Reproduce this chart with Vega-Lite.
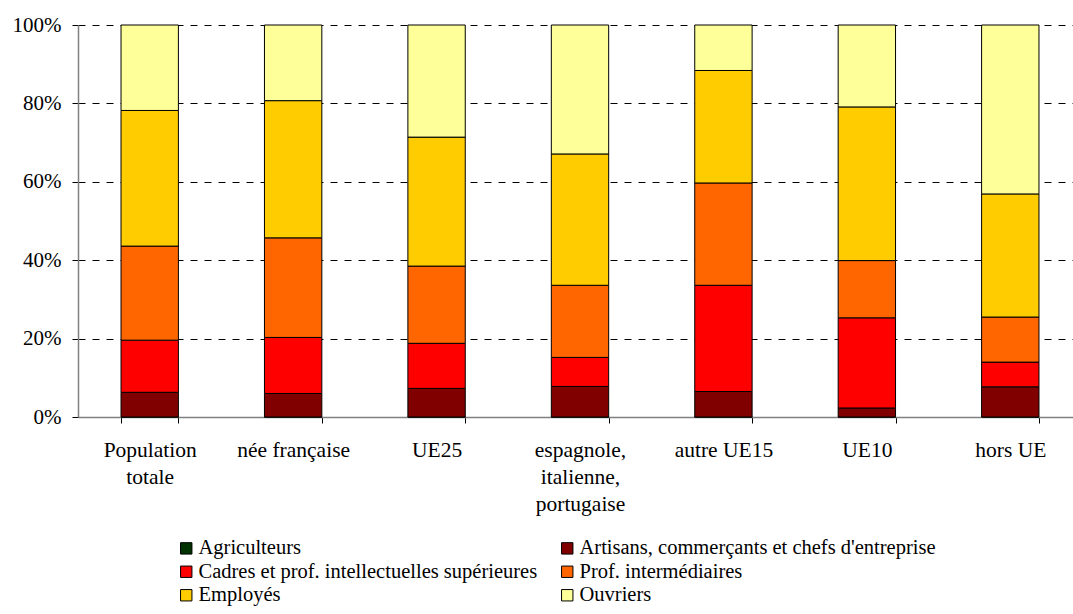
{
  "$schema": "https://vega.github.io/schema/vega-lite/v6.json",
  "width": 1004,
  "height": 392,
  "autosize": {"type": "none"},
  "padding": {"left": 78, "top": 25, "right": -9, "bottom": 197},
  "background": "white",
  "config": {
    "view": {"stroke": null},
    "font": "'Liberation Serif', 'Times New Roman', Times, serif"
  },
  "data": {
    "values": [
      {"groupe": "Population\ntotale", "g": 1, "cat": "Agriculteurs", "k": 1, "v": 0},
      {"groupe": "Population\ntotale", "g": 1, "cat": "Artisans, commerçants et chefs d'entreprise", "k": 2, "v": 6.3},
      {"groupe": "Population\ntotale", "g": 1, "cat": "Cadres et prof. intellectuelles supérieures", "k": 3, "v": 13.3},
      {"groupe": "Population\ntotale", "g": 1, "cat": "Prof. intermédiaires", "k": 4, "v": 24.0},
      {"groupe": "Population\ntotale", "g": 1, "cat": "Employés", "k": 5, "v": 34.6},
      {"groupe": "Population\ntotale", "g": 1, "cat": "Ouvriers", "k": 6, "v": 21.8},

      {"groupe": "née française", "g": 2, "cat": "Agriculteurs", "k": 1, "v": 0},
      {"groupe": "née française", "g": 2, "cat": "Artisans, commerçants et chefs d'entreprise", "k": 2, "v": 6.0},
      {"groupe": "née française", "g": 2, "cat": "Cadres et prof. intellectuelles supérieures", "k": 3, "v": 14.3},
      {"groupe": "née française", "g": 2, "cat": "Prof. intermédiaires", "k": 4, "v": 25.4},
      {"groupe": "née française", "g": 2, "cat": "Employés", "k": 5, "v": 35.0},
      {"groupe": "née française", "g": 2, "cat": "Ouvriers", "k": 6, "v": 19.3},

      {"groupe": "UE25", "g": 3, "cat": "Agriculteurs", "k": 1, "v": 0},
      {"groupe": "UE25", "g": 3, "cat": "Artisans, commerçants et chefs d'entreprise", "k": 2, "v": 7.3},
      {"groupe": "UE25", "g": 3, "cat": "Cadres et prof. intellectuelles supérieures", "k": 3, "v": 11.5},
      {"groupe": "UE25", "g": 3, "cat": "Prof. intermédiaires", "k": 4, "v": 19.7},
      {"groupe": "UE25", "g": 3, "cat": "Employés", "k": 5, "v": 32.9},
      {"groupe": "UE25", "g": 3, "cat": "Ouvriers", "k": 6, "v": 28.6},

      {"groupe": "espagnole,\nitalienne,\nportugaise", "g": 4, "cat": "Agriculteurs", "k": 1, "v": 0},
      {"groupe": "espagnole,\nitalienne,\nportugaise", "g": 4, "cat": "Artisans, commerçants et chefs d'entreprise", "k": 2, "v": 7.8},
      {"groupe": "espagnole,\nitalienne,\nportugaise", "g": 4, "cat": "Cadres et prof. intellectuelles supérieures", "k": 3, "v": 7.4},
      {"groupe": "espagnole,\nitalienne,\nportugaise", "g": 4, "cat": "Prof. intermédiaires", "k": 4, "v": 18.4},
      {"groupe": "espagnole,\nitalienne,\nportugaise", "g": 4, "cat": "Employés", "k": 5, "v": 33.5},
      {"groupe": "espagnole,\nitalienne,\nportugaise", "g": 4, "cat": "Ouvriers", "k": 6, "v": 32.9},

      {"groupe": "autre UE15", "g": 5, "cat": "Agriculteurs", "k": 1, "v": 0},
      {"groupe": "autre UE15", "g": 5, "cat": "Artisans, commerçants et chefs d'entreprise", "k": 2, "v": 6.5},
      {"groupe": "autre UE15", "g": 5, "cat": "Cadres et prof. intellectuelles supérieures", "k": 3, "v": 27.1},
      {"groupe": "autre UE15", "g": 5, "cat": "Prof. intermédiaires", "k": 4, "v": 26.1},
      {"groupe": "autre UE15", "g": 5, "cat": "Employés", "k": 5, "v": 28.7},
      {"groupe": "autre UE15", "g": 5, "cat": "Ouvriers", "k": 6, "v": 11.6},

      {"groupe": "UE10", "g": 6, "cat": "Agriculteurs", "k": 1, "v": 0},
      {"groupe": "UE10", "g": 6, "cat": "Artisans, commerçants et chefs d'entreprise", "k": 2, "v": 2.3},
      {"groupe": "UE10", "g": 6, "cat": "Cadres et prof. intellectuelles supérieures", "k": 3, "v": 23.0},
      {"groupe": "UE10", "g": 6, "cat": "Prof. intermédiaires", "k": 4, "v": 14.6},
      {"groupe": "UE10", "g": 6, "cat": "Employés", "k": 5, "v": 39.2},
      {"groupe": "UE10", "g": 6, "cat": "Ouvriers", "k": 6, "v": 20.9},

      {"groupe": "hors UE", "g": 7, "cat": "Agriculteurs", "k": 1, "v": 0},
      {"groupe": "hors UE", "g": 7, "cat": "Artisans, commerçants et chefs d'entreprise", "k": 2, "v": 7.7},
      {"groupe": "hors UE", "g": 7, "cat": "Cadres et prof. intellectuelles supérieures", "k": 3, "v": 6.3},
      {"groupe": "hors UE", "g": 7, "cat": "Prof. intermédiaires", "k": 4, "v": 11.5},
      {"groupe": "hors UE", "g": 7, "cat": "Employés", "k": 5, "v": 31.4},
      {"groupe": "hors UE", "g": 7, "cat": "Ouvriers", "k": 6, "v": 43.1}
    ]
  },
  "mark": {"type": "bar", "stroke": "black", "strokeWidth": 1},
  "encoding": {
    "x": {
      "field": "groupe",
      "type": "nominal",
      "sort": {"field": "g"},
      "title": null,
      "scale": {"paddingInner": 0.6, "paddingOuter": 0.3},
      "axis": {
        "labelAngle": 0,
        "labelExpr": "split(datum.label, '\\n')",
        "labelFontSize": 21.5,
        "labelColor": "black",
        "labelLineHeight": 27,
        "labelPadding": 16,
        "labelBaseline": "top",
        "tickBand": "extent",
        "tickSize": 6,
        "tickColor": "black",
        "domainColor": "#808080",
        "domainWidth": 1.5,
        "grid": false
      }
    },
    "y": {
      "field": "v",
      "type": "quantitative",
      "stack": "normalize",
      "title": null,
      "scale": {"domain": [0, 1], "nice": false},
      "axis": {
        "format": "0%",
        "values": [0, 0.2, 0.4, 0.6, 0.8, 1],
        "labelFontSize": 21,
        "labelColor": "black",
        "labelPadding": 11,
        "tickSize": 6,
        "tickColor": "black",
        "domainColor": "#808080",
        "domainWidth": 1.5,
        "grid": true,
        "gridColor": "black",
        "gridDash": [7, 7],
        "gridWidth": 1
      }
    },
    "order": {"field": "k", "type": "quantitative"},
    "color": {
      "field": "cat",
      "type": "nominal",
      "sort": null,
      "scale": {
        "domain": ["Agriculteurs", "Artisans, commerçants et chefs d'entreprise", "Cadres et prof. intellectuelles supérieures", "Prof. intermédiaires", "Employés", "Ouvriers"],
        "range": ["#003300", "#800000", "#FF0000", "#FF6600", "#FFCC00", "#FFFF99"]
      },
      "legend": {
        "title": null,
        "orient": "none",
        "legendX": 98,
        "legendY": 513,
        "direction": "horizontal",
        "columns": 2,
        "columnPadding": 19,
        "rowPadding": 2.5,
        "symbolType": "square",
        "symbolSize": 130,
        "symbolStrokeColor": "black",
        "symbolStrokeWidth": 1,
        "symbolOpacity": 1,
        "labelFontSize": 20.5,
        "labelColor": "black",
        "labelOffset": 2,
        "labelLimit": 500
      }
    }
  }
}
